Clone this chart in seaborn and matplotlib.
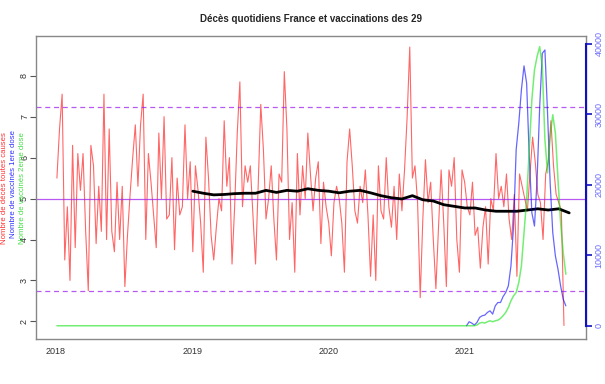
import numpy as np
import pandas as pd
import matplotlib
matplotlib.use("Agg")
import matplotlib.pyplot as plt
import matplotlib.dates as mdates
import seaborn as sns

# daily deaths, from 2018-01-04
deces = [
    5.5, 6.7, 7.55, 3.5, 4.8, 3.0, 6.3, 3.8, 6.1, 5.2, 6.1, 4.2, 2.75, 6.3, 5.8, 3.9, 5.3, 4.2, 7.55, 4.0,
    6.7, 4.2, 3.7, 5.4, 4.0, 5.3, 2.85, 4.1, 5.1, 6.0, 6.8, 5.3, 6.8, 7.55, 4.0, 6.1, 5.4, 4.6, 3.8, 6.6,
    5.0, 7.0, 4.5, 4.6, 6.0, 3.75, 5.5, 4.6, 4.8, 6.8, 5.0, 5.9, 3.7, 5.8, 5.2, 4.4, 3.2, 6.5, 5.5, 4.1,
    3.5, 4.3, 5.0, 4.7, 6.9, 5.3, 6.0, 3.4, 4.8, 6.6, 7.85, 4.8, 5.8, 5.4, 5.8, 4.6, 3.4, 5.3, 7.3, 6.2,
    4.5, 5.0, 5.8, 4.5, 3.5, 5.6, 5.4, 8.1, 6.7, 4.0, 4.9, 3.2, 6.1, 4.6, 5.8, 5.0, 6.6, 5.6, 4.7, 5.5,
    5.9, 3.9, 5.4, 4.8, 4.4, 3.6, 4.9, 5.3, 5.0, 4.4, 3.2, 5.9, 6.7, 5.8, 4.7, 4.4, 5.3, 4.9, 5.7, 4.6,
    3.1, 4.6, 3.0, 5.8, 4.7, 4.5, 6.0, 4.8, 4.3, 5.3, 4.0, 5.6, 4.7, 5.7, 7.0, 8.7, 5.5, 5.8, 4.9, 2.58,
    4.5, 5.95, 4.9, 5.4, 4.0, 2.8, 4.3, 5.7, 4.4, 2.85, 5.7, 5.3, 6.0, 4.0, 3.2, 5.7, 5.4, 4.8, 4.6, 5.4,
    4.1, 4.3, 3.3, 4.3, 4.8, 3.4, 5.0, 4.7, 6.1, 5.0, 5.3, 4.8, 5.6, 4.5, 4.0, 5.1, 3.1, 5.6, 5.3, 5.0,
    4.7, 5.6, 6.5, 5.9, 5.1, 4.9, 4.0, 5.6, 5.9, 6.9, 5.8, 5.1, 4.9, 4.7, 1.9,
]

# yearly moving average, every 4 weeks from 2019-01-03
moyenne = [
    5.18, 5.13, 5.09, 5.10, 5.12, 5.13, 5.13, 5.2, 5.15, 5.2, 5.18, 5.24, 5.2, 5.18, 5.14, 5.18, 5.2,
    5.14, 5.07, 5.02, 4.99, 5.07, 4.97, 4.94, 4.85, 4.81, 4.77, 4.77, 4.72, 4.69, 4.69, 4.69, 4.72,
    4.75, 4.72, 4.75, 4.65,
]

# vaccinations, weekly from 2021-01-05
dose1 = [
    0, 570, 380, 100, 470, 1180, 1420, 1510, 1890, 2120, 1650, 2830, 3300, 3300, 4150, 4720, 5660,
    8490, 14150, 25000, 28770, 33490, 36890, 34430, 24060, 16040, 14150, 20750, 31130, 38680, 39150,
    30190, 20280, 13210, 9910, 8020, 5660, 3770, 2830,
]
dose2 = [
    0, 0, 0, 0, 100, 380, 470, 380, 570, 700, 570, 700, 800, 1040, 1420, 1890, 2590, 3540, 4250,
    4720, 6130, 8490, 13210, 17920, 25000, 32080, 36320, 38210, 39620, 36790, 26420, 21700, 26890,
    29950, 27360, 20750, 14620, 10380, 7310,
]

seuils = [7.23, 5.0, 2.74]

dates_deces = pd.date_range("2018-01-04", periods=len(deces), freq="7D")
dates_moy = pd.date_range("2019-01-03", periods=len(moyenne), freq="28D")
dates_vac = pd.date_range("2021-01-05", periods=len(dose1), freq="7D")
# dose 2 flat at zero since the start of the deaths series
dates_d2 = pd.DatetimeIndex([dates_deces[0]]).append(dates_vac)
vals_d2 = [0] + dose2

sns.set_style("white")
plt.rcParams["font.family"] = ["Liberation Sans", "DejaVu Sans"]

fig = plt.figure(figsize=(6.05, 3.84), dpi=100)
ax = fig.add_axes([36 / 605, 45 / 384, 550 / 605, 303 / 384])

sns.lineplot(x=dates_deces, y=deces, ax=ax, color="red", lw=0.8, alpha=0.6)
violet = "#a020f0"
ax.axhline(seuils[0], color=violet, lw=0.9, ls=(0, (4, 3)), alpha=0.75)
ax.axhline(seuils[1], color=violet, lw=0.9, alpha=0.75)
ax.axhline(seuils[2], color=violet, lw=0.9, ls=(0, (4, 3)), alpha=0.75)
sns.lineplot(x=dates_moy, y=moyenne, ax=ax, color="black", lw=2.0)

ax.set_xlim(pd.Timestamp("2017-11-09"), pd.Timestamp("2021-11-21"))
ax.set_ylim(1.57, 8.97)
ax.set_yticks([2, 3, 4, 5, 6, 7, 8])
ax.xaxis.set_major_locator(mdates.YearLocator())
ax.xaxis.set_major_formatter(mdates.DateFormatter("%Y"))
ax.tick_params(axis="both", direction="out", length=4, width=0.8, color="#555555",
               labelsize=6.5, labelcolor="#333333", pad=2)
ax.tick_params(axis="y", pad=1)
for lab in ax.get_yticklabels():
    lab.set_rotation(90)
    lab.set_va("center")
for sp in ax.spines.values():
    sp.set_color("#888888")
    sp.set_linewidth(1.0)
ax.set_xlabel("")
ax.set_ylabel("")

ax2 = ax.twinx()
sns.lineplot(x=dates_vac, y=dose1, ax=ax2, color="blue", lw=0.9, alpha=0.6)
sns.lineplot(x=dates_d2, y=vals_d2, ax=ax2, color="#00e000", lw=1.1, alpha=0.55)
ax2.set_ylim(-1880, 41130)
ax2.set_yticks([0, 10000, 20000, 30000, 40000])
ax2.set_yticklabels(["0", "10000", "20000", "30000", "40000"])
ax2.tick_params(axis="y", direction="out", length=4, width=1.2, color="#1010c0",
                labelsize=6.5, labelcolor="#6a6aff", pad=2)
for lab in ax2.get_yticklabels():
    lab.set_rotation(90)
    lab.set_va("center")
for side in ["left", "top", "bottom"]:
    ax2.spines[side].set_visible(False)
ax2.spines["right"].set_bounds(0, 40000)
ax2.spines["right"].set_color("#1010c0")
ax2.spines["right"].set_linewidth(1.5)
ax2.set_ylabel("")

ax.set_title("Décès quotidiens France et vaccinations des 29", fontsize=7,
             fontweight="bold", pad=10)

fig.text(5 / 605, 0.51, "Nombre de décès toutes causes", rotation=90, color="#ff3030",
         fontsize=5.6, ha="center", va="center")
fig.text(14 / 605, 0.52, "Nombre de vaccinés 1ere dose", rotation=90, color="#3030ff",
         fontsize=5.6, ha="center", va="center")
fig.text(23 / 605, 0.51, "Nombre de vaccinés 2eme dose", rotation=90, color="#40e040",
         fontsize=5.6, ha="center", va="center")

fig.savefig("out.png", dpi=100)
